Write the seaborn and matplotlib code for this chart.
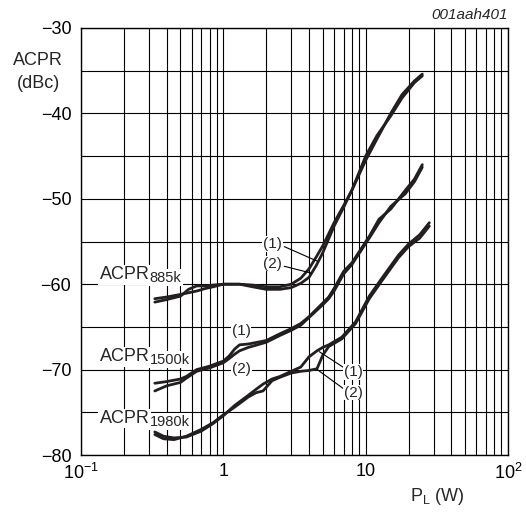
import matplotlib
matplotlib.use("Agg")
import matplotlib.pyplot as plt
from matplotlib.ticker import FixedLocator, FixedFormatter, MultipleLocator, LogLocator, NullFormatter
import seaborn as sns
import pandas as pd

# ---- data ----
x_885 = [0.33, 0.4, 0.5, 0.57, 0.65, 0.75, 0.85, 1.0, 1.3, 1.6, 2.0, 2.5, 3.0, 3.5, 4.0, 4.5, 5.0, 6.0, 7.0, 8.0, 10, 12, 15, 18, 22, 25]
y_885_1 = [-62.1, -61.8, -61.4, -60.6, -60.2, -60.2, -60.1, -60.0, -60.0, -60.1, -60.3, -60.3, -60.0, -59.3, -58.2, -56.8, -55.5, -52.8, -50.8, -49.0, -45.5, -43.0, -40.0, -37.8, -36.2, -35.4]
y_885_2 = [-61.7, -61.5, -61.2, -61.0, -60.8, -60.5, -60.3, -60.0, -60.0, -60.3, -60.6, -60.6, -60.4, -59.9, -59.2, -57.8, -56.3, -53.2, -51.0, -49.0, -45.0, -42.6, -40.3, -38.2, -36.4, -35.6]

x_1500 = [0.33, 0.4, 0.5, 0.55, 0.65, 0.8, 1.0, 1.1, 1.2, 1.3, 1.5, 2.0, 2.5, 3.0, 3.5, 4.0, 5.0, 5.5, 6.0, 7.0, 8.0, 9.0, 10.6, 12.4, 15, 19, 22, 25]
y_1500_1 = [-71.6, -71.4, -71.1, -70.8, -70.0, -69.6, -69.0, -68.4, -67.6, -67.1, -67.0, -66.6, -65.8, -65.2, -64.6, -63.8, -62.2, -61.5, -60.5, -58.5, -57.5, -56.2, -54.4, -52.4, -51.2, -49.0, -47.7, -46.0]
y_1500_2 = [-72.5, -71.9, -71.5, -71.0, -70.2, -69.8, -69.2, -68.7, -68.2, -67.8, -67.4, -66.8, -66.0, -65.4, -64.8, -63.9, -62.4, -61.7, -60.8, -58.8, -57.7, -56.4, -54.6, -52.8, -50.9, -49.4, -48.0, -46.3]

x_1980 = [0.33, 0.38, 0.45, 0.55, 0.7, 0.85, 1.0, 1.2, 1.5, 1.7, 1.9, 2.2, 2.5, 3.0, 3.5, 4.0, 4.55, 5.0, 5.5, 6.8, 8.5, 10.6, 13, 17, 20, 24, 28]
y_1980_1 = [-77.3, -77.8, -78.0, -77.9, -77.2, -76.3, -75.4, -74.2, -73.0, -72.3, -71.7, -71.1, -70.8, -70.2, -69.7, -68.5, -67.8, -67.4, -67.1, -66.2, -64.4, -61.4, -59.3, -56.6, -55.3, -54.2, -52.8]
y_1980_2 = [-77.6, -78.1, -78.2, -77.8, -77.0, -76.2, -75.3, -74.4, -73.2, -72.7, -72.5, -71.3, -70.9, -70.4, -70.2, -70.1, -69.9, -68.3, -67.3, -66.4, -64.6, -61.7, -59.6, -56.9, -55.6, -54.6, -53.2]

group_names = ["ACPR", "ACPR", "ACPR"]
group_subs = ["885k", "1500k", "1980k"]
x_ticks = [0.1, 1, 10, 100]
x_tick_labels = ["10$^{-1}$", "1", "10", "10$^{2}$"]
y_ticks = [-80, -70, -60, -50, -40, -30]

# ---- style ----
sns.set_style("white")
plt.rcParams["font.family"] = ["Liberation Sans", "DejaVu Sans"]
plt.rcParams["mathtext.fontset"] = "custom"
plt.rcParams["mathtext.rm"] = "Liberation Sans"
plt.rcParams["mathtext.it"] = "Liberation Sans:italic"
plt.rcParams["mathtext.default"] = "regular"
plt.rcParams["axes.unicode_minus"] = True

rows = []
for name, xs, ys in [("885_1", x_885, y_885_1), ("885_2", x_885, y_885_2),
                     ("1500_1", x_1500, y_1500_1), ("1500_2", x_1500, y_1500_2),
                     ("1980_1", x_1980, y_1980_1), ("1980_2", x_1980, y_1980_2)]:
    for xv, yv in zip(xs, ys):
        rows.append({"curve": name, "P": xv, "ACPR": yv})
df = pd.DataFrame(rows)

fig = plt.figure(figsize=(5.26, 5.12), dpi=100)
ax = fig.add_axes([81 / 526, 57 / 512, 427 / 526, 427 / 512])

ax.set_xscale("log")
ax.set_xlim(0.1, 100)
ax.set_ylim(-80, -30)

ax.xaxis.set_major_locator(FixedLocator(x_ticks))
ax.xaxis.set_major_formatter(FixedFormatter(x_tick_labels))
ax.xaxis.set_minor_locator(LogLocator(base=10, subs=[2, 3, 4, 5, 6, 7, 8, 9]))
ax.xaxis.set_minor_formatter(NullFormatter())
ax.yaxis.set_major_locator(FixedLocator(y_ticks))
ax.yaxis.set_minor_locator(MultipleLocator(5))

ax.grid(which="both", color="black", linewidth=0.8)
ax.set_axisbelow(True)
for s in ax.spines.values():
    s.set_color("black")
    s.set_linewidth(1.0)

ax.tick_params(which="both", length=0, labelsize=13, colors="black")
ax.tick_params(axis="x", pad=6)
ax.tick_params(axis="y", pad=7)

sns.lineplot(data=df, x="P", y="ACPR", units="curve", estimator=None,
             color="#231f20", linewidth=2.0, ax=ax, legend=False)

ax.set_xlabel("")
ax.set_ylabel("")

bbox = dict(facecolor="white", edgecolor="none", pad=1.0)
for (yb, nm, sb) in zip([-59.4, -69.0, -76.25], group_names, group_subs):
    t = ax.text(0.135, yb, nm, fontsize=13, ha="left", va="baseline", bbox=bbox)
    ax.annotate(sb, xy=(1, 0), xycoords=t, xytext=(0.3, -1.2), textcoords="offset points",
                fontsize=10.5, ha="left", va="bottom", bbox=bbox)

lab_kw = dict(fontsize=11, ha="center", va="center", bbox=dict(facecolor="white", edgecolor="none", pad=0.5))
ax.text(2.21, -55.3, "(1)", **lab_kw)
ax.text(2.21, -57.6, "(2)", **lab_kw)
ax.text(1.33, -65.5, "(1)", **lab_kw)
ax.text(1.34, -69.9, "(2)", **lab_kw)
ax.text(8.18, -70.3, "(1)", **lab_kw)
ax.text(8.18, -72.7, "(2)", **lab_kw)

lk = dict(color="black", linewidth=0.8)
ax.plot([2.68, 4.57], [-55.6, -57.3], **lk)
ax.plot([2.68, 4.15], [-57.9, -58.7], **lk)
ax.plot([7.07, 4.72], [-69.8, -67.9], **lk)
ax.plot([7.07, 4.57], [-72.3, -70.0], **lk)

ax.text(-0.1007, 0.925, "ACPR", transform=ax.transAxes, fontsize=13, ha="center", va="center")
ax.text(-0.1007, 0.871, "(dBc)", transform=ax.transAxes, fontsize=13, ha="center", va="center")
ax.text(0.834, -0.098, "P$_L$ (W)", transform=ax.transAxes, fontsize=13, ha="center", va="center")
ax.text(1.0, 1.03, "001aah401", transform=ax.transAxes, fontsize=11, ha="right", va="center", style="italic")

fig.savefig("out.png", dpi=100)
